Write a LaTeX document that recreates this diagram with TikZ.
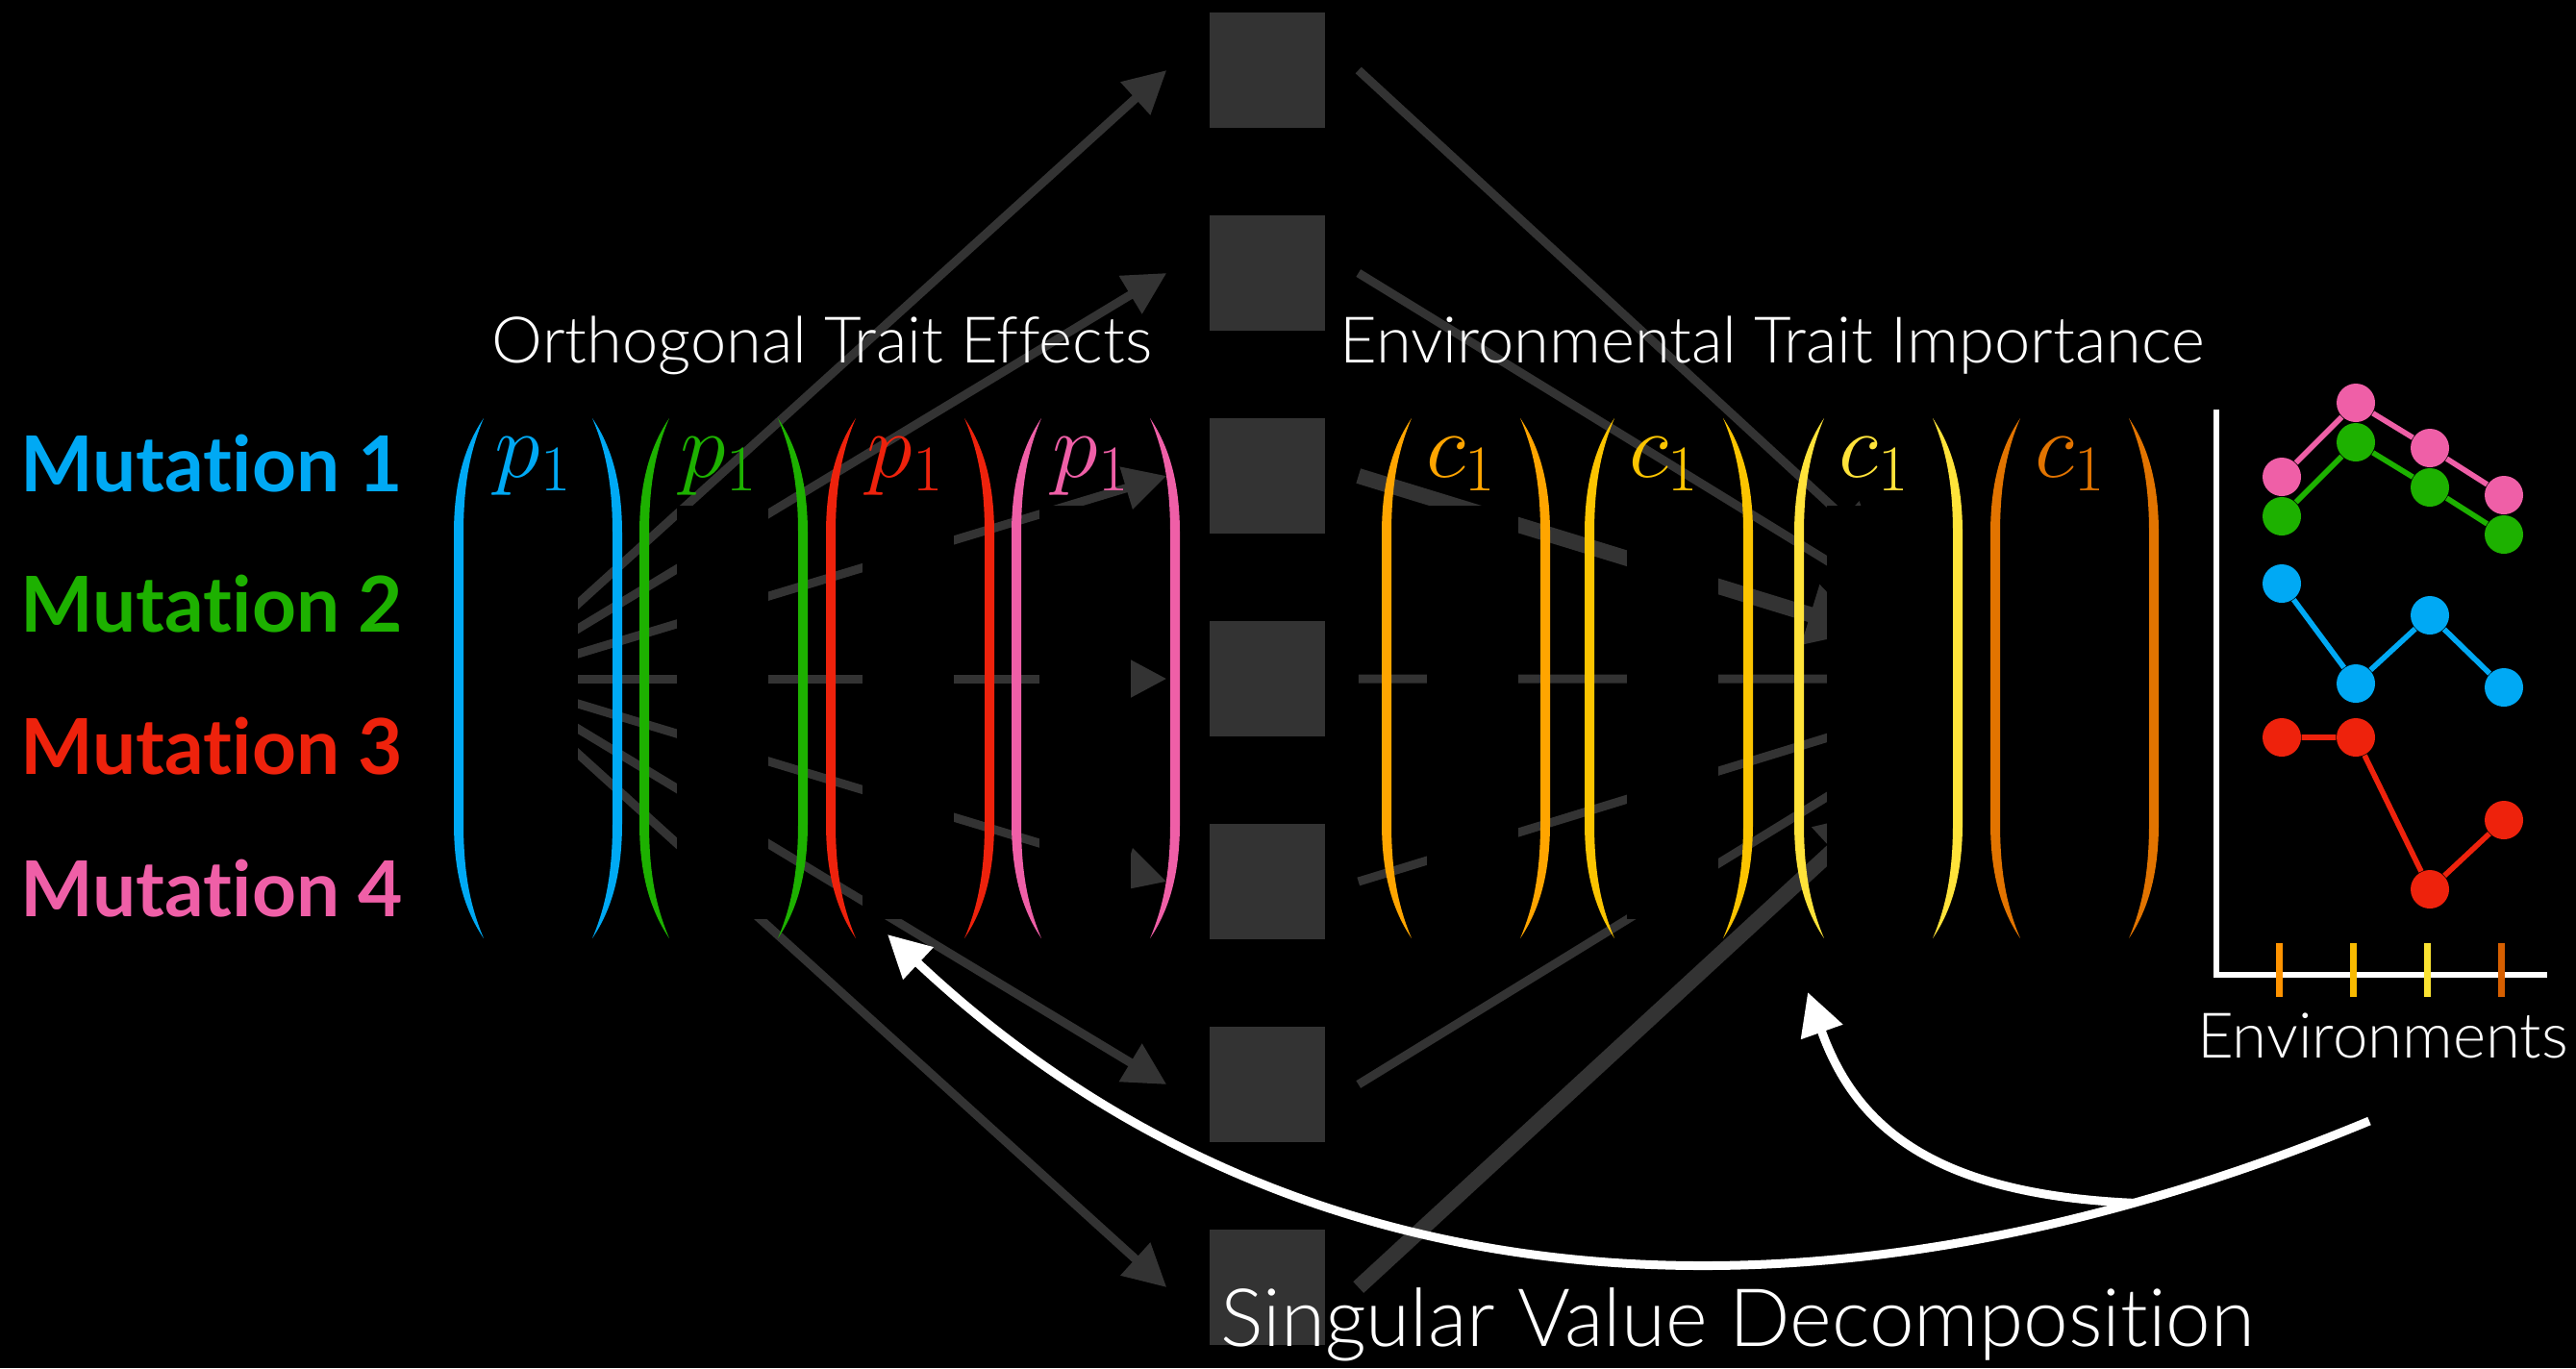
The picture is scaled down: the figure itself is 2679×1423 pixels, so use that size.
\RequirePackage{fix-cm}
\documentclass[tikz,border=0pt]{standalone}
\usepackage{fontspec}
\setmainfont{Lato}[Ligatures=NoCommon]
\IfFontExistsTF{Lato Light}{\newfontfamily\thinfont{Lato Light}[Ligatures=NoCommon]}{\newfontfamily\thinfont{Lato}[Ligatures=NoCommon]}
\usetikzlibrary{arrows.meta,calc}

% mutation colours
\definecolor{mblue}{HTML}{00A9F4}
\definecolor{mgreen}{HTML}{1DB100}
\definecolor{mred}{HTML}{EE220C}
\definecolor{mpink}{HTML}{EF5FA7}
% environment colours
\definecolor{corange}{HTML}{FFA500}
\definecolor{cgold}{HTML}{FBC400}
\definecolor{cyellow}{HTML}{FFE33A}
\definecolor{cdark}{HTML}{E27400}
\definecolor{tk1}{HTML}{FF9300}
\definecolor{tk2}{HTML}{F8BA00}
\definecolor{tk3}{HTML}{FAE232}
\definecolor{tk4}{HTML}{D65F00}
\definecolor{netgrey}{HTML}{333333}

\tikzset{
  % tall left parenthesis, 541 units high, outer edge at x=0
  lparen/.pic={
    \fill (31,0) .. controls (12,28) and (0,65) .. (0,120) -- (0,421)
          .. controls (0,476) and (12,513) .. (31,541)
          .. controls (18,510) and (10,476) .. (10,421) -- (10,120)
          .. controls (10,65) and (18,31) .. (31,0) -- cycle;
  },
  sqbox/.style={fill=netgrey, draw=none, minimum size=34.14pt, inner sep=0pt},
  netline/.style={draw=netgrey, line width=2.56pt},
  netarrow/.style={netline, -{Triangle[length=12.5pt,width=12.5pt]}},
  netthick/.style={draw=netgrey, line width=4.55pt, -{Triangle[length=17pt,width=17.4pt]}},
  entry/.style={anchor=base, inner sep=0pt, font=\fontsize{27.5}{30}\selectfont},
  mutlbl/.style={anchor=base west, inner sep=0pt, font=\fontsize{22.8}{26}\selectfont\bfseries},
  titlelbl/.style={anchor=base, inner sep=0pt, text=white, font=\fontsize{19}{22}\selectfont\thinfont},
  svdlbl/.style={anchor=base, inner sep=0pt, text=white, font=\fontsize{23.8}{28}\selectfont\thinfont},
  svdarrow/.style={draw=white, line width=2.56pt, -{Triangle[length=12.5pt,width=12.5pt]}},
  dot/.style={circle, draw=none, inner sep=0pt, minimum size=11.38pt},
  dataline/.style={line width=1.6pt},
  axisline/.style={draw=white, line width=1.7pt},
  tickline/.style={line width=2pt},
}

\begin{document}
\begin{tikzpicture}[x=0.01cm, y=-0.01cm]
\fill[black] (0,0) rectangle (2679,1423);
\useasboundingbox (0,0) rectangle (2679,1423);

% hidden input and output units of the network
\coordinate (L) at (515,706);
\coordinate (R) at (2100,706);

% central column of units
\foreach \k/\y in {1/73,2/284,3/495,4/706,5/917,6/1128,7/1339}
  \node[sqbox] (sq\k) at (1318,\y) {};

% connections from the input unit
\foreach \k in {1,...,7}
  \draw[netarrow] (L) -- ($(sq\k.west)+(-44,0)$);

% connections towards the output unit
\foreach \k in {1,2,4,5,6}
  \draw[netarrow] ($(sq\k.east)+(34,0)$) coordinate (s\k) -- ($(s\k)!0.782!(R)$);
\draw[netthick] ($(sq3.east)+(34,0)$) coordinate (s3) -- ($(s3)!0.767!(R)$);
\draw[netthick] ($(sq7.east)+(34,0)$) coordinate (s7) -- ($(s7)!0.782!(R)$);

% matrix bodies
\foreach \a in {506,704,897,1081,1484,1692,1900,2110}
  \fill[black] (\a,526) rectangle (\a+95,956);

% column vectors
\foreach \Lx/\col/\sym in {472/mblue/p, 665/mgreen/p, 859/mred/p, 1052/mpink/p,
                            1437/corange/c, 1648/cgold/c, 1866/cyellow/c, 2070/cdark/c} {
  \pic[fill=\col] at (\Lx,435) {lparen};
  \pic[fill=\col, xscale=-1] at (\Lx+175,435) {lparen};
  \node[entry, text=\col] (e\Lx) at (\Lx+83,496) {$\sym_1$};
}

% row labels
\node[mutlbl, text=mblue]  (mut1) at (21,511) {Mutation 1};
\node[mutlbl, text=mgreen] (mut2) at (21,657) {Mutation 2};
\node[mutlbl, text=mred]   (mut3) at (21,805) {Mutation 3};
\node[mutlbl, text=mpink]  (mut4) at (21,953) {Mutation 4};

% headings
\node[titlelbl] (ttlP) at (855,377) {Orthogonal Trait Effects};
\node[titlelbl] (ttlC) at (1843,377) {Environmental Trait Importance};

% reaction norm plot
\coordinate (axTop) at (2305,426);
\coordinate (axO) at (2305,1014);
\coordinate (axEnd) at (2649,1014);
\draw[axisline] (axTop) -- (axO) -- (axEnd);
\foreach \x/\col in {2370/tk1, 2447/tk2, 2524/tk3, 2601/tk4}
  \draw[tickline, draw=\col] (\x,981) -- (\x,1037);
\foreach \nm/\col/\ya/\yb/\yc/\yd in {pk/mpink/496/419/466/515, gr/mgreen/537/460/507/556,
                                      bl/mblue/607/711/640/715, rd/mred/767/767/925/853} {
  \node[dot, fill=\col] (\nm1) at (2373,\ya) {};
  \node[dot, fill=\col] (\nm2) at (2450,\yb) {};
  \node[dot, fill=\col] (\nm3) at (2527,\yc) {};
  \node[dot, fill=\col] (\nm4) at (2604,\yd) {};
  \draw[dataline, draw=\col] (\nm1) -- (\nm2) -- (\nm3) -- (\nm4);
}
\node[titlelbl, font=\fontsize{18.6}{22}\selectfont\thinfont] (envlbl) at (2478,1100) {Environments};

% decomposition arrows
\coordinate (svdFrom) at (2464,1166);
\coordinate (pTarget) at (923,972);
\coordinate (cTarget) at (1880,1032);
\draw[svdarrow] (svdFrom) .. controls (1920,1392) and (1361,1384) .. node[coordinate, pos=0.15] (split) {} (pTarget);
\draw[svdarrow] (split) .. controls (2012,1242) and (1930,1173) .. (cTarget);

\node[svdlbl] (svd) at (1807,1400) {Singular Value Decomposition};
\end{tikzpicture}
\end{document}
